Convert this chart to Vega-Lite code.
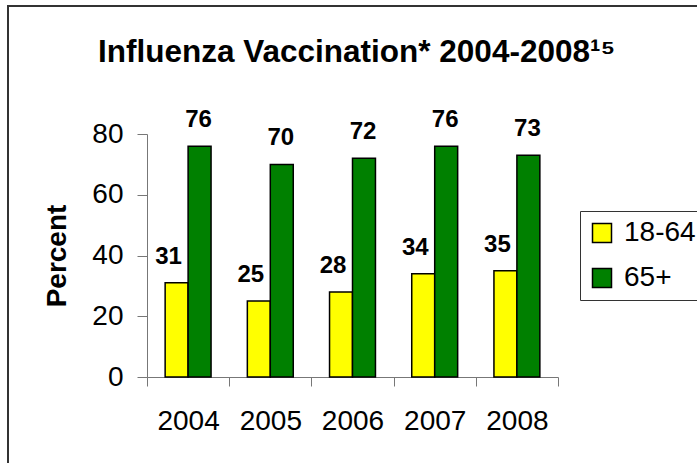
{
  "$schema": "https://vega.github.io/schema/vega-lite/v6.json",
  "width": 690,
  "height": 458,
  "autosize": {"type": "none"},
  "padding": {"left": 8, "top": 6, "right": -1, "bottom": -1},
  "background": "white",
  "title": {
    "text": "Influenza Vaccination* 2004-2008¹⁵",
    "fontSize": 31.5,
    "fontWeight": "bold",
    "font": "Liberation Sans",
    "color": "black",
    "anchor": "start",
    "frame": "group",
    "dx": 90,
    "offset": -87,
    "baseline": "alphabetic"
  },
  "data": {
    "values": [
      {"year": "2004", "group": "18-64", "value": 31},
      {"year": "2004", "group": "65+", "value": 76},
      {"year": "2005", "group": "18-64", "value": 25},
      {"year": "2005", "group": "65+", "value": 70},
      {"year": "2006", "group": "18-64", "value": 28},
      {"year": "2006", "group": "65+", "value": 72},
      {"year": "2007", "group": "18-64", "value": 34},
      {"year": "2007", "group": "65+", "value": 76},
      {"year": "2008", "group": "18-64", "value": 35},
      {"year": "2008", "group": "65+", "value": 73}
    ]
  },
  "encoding": {
    "x": {
      "field": "year",
      "type": "nominal",
      "scale": {"range": [139, 550], "paddingInner": 0, "paddingOuter": 0},
      "axis": {
        "orient": "bottom",
        "offset": -87,
        "tickBand": "extent",
        "tickSize": 9,
        "labelPadding": 21,
        "labelAngle": 0,
        "labelFontSize": 28,
        "labelColor": "black",
        "domainColor": "#777",
        "tickColor": "#777",
        "title": null
      }
    },
    "xOffset": {
      "field": "group",
      "type": "nominal",
      "sort": ["18-64", "65+"],
      "scale": {"paddingInner": 0, "paddingOuter": 0.79}
    },
    "y": {
      "field": "value",
      "type": "quantitative",
      "scale": {"domain": [0, 80], "range": [371, 128], "nice": false},
      "axis": {
        "orient": "left",
        "offset": -139,
        "values": [0, 20, 40, 60, 80],
        "grid": false,
        "tickSize": 10,
        "labelPadding": 14,
        "labelFontSize": 28,
        "labelColor": "black",
        "domainColor": "#777",
        "tickColor": "#777",
        "title": "Percent",
        "titleFontSize": 28,
        "titleFontWeight": "bold",
        "titleColor": "black",
        "titlePadding": 20
      }
    }
  },
  "layer": [
    {
      "mark": {"type": "bar", "stroke": "black", "strokeWidth": 1.5},
      "encoding": {
        "color": {
          "field": "group",
          "type": "nominal",
          "scale": {"domain": ["18-64", "65+"], "range": ["#FFFF00", "#008000"]},
          "legend": {
            "title": null,
            "orient": "none",
            "legendX": 572,
            "legendY": 205,
            "symbolType": "square",
            "symbolSize": 361,
            "symbolStrokeColor": "black",
            "symbolStrokeWidth": 1.5,
            "symbolOpacity": 1,
            "labelFontSize": 28,
            "labelColor": "black",
            "labelOffset": 8,
            "rowPadding": 17,
            "padding": 8,
            "strokeColor": "#333",
            "fillColor": "white"
          }
        }
      }
    },
    {
      "transform": [{"filter": "datum.group === '18-64'"}],
      "mark": {"type": "text", "dx": -8, "dy": -19, "baseline": "alphabetic", "fontSize": 24, "fontWeight": "bold", "color": "black"},
      "encoding": {"text": {"field": "value", "type": "quantitative"}}
    },
    {
      "transform": [{"filter": "datum.group === '65+'"}],
      "mark": {"type": "text", "dx": -1, "dy": -19, "baseline": "alphabetic", "fontSize": 24, "fontWeight": "bold", "color": "black"},
      "encoding": {"text": {"field": "value", "type": "quantitative"}}
    }
  ],
  "config": {
    "font": "Liberation Sans",
    "view": {"stroke": "#333", "strokeWidth": 2},
    "legend": {"symbolStrokeWidth": 1.5}
  }
}
